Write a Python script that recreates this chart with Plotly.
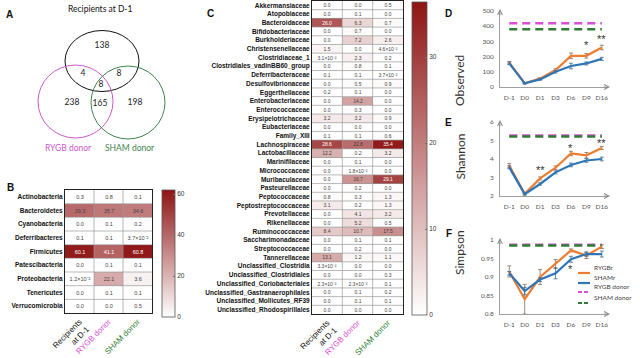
import math
import plotly.graph_objects as go

W, H = 640, 358


def fx(px):
    return px / W


def fy(py):
    return 1 - py / H


# ---------------- data ----------------
venn_set_names = ["Recipients at D-1", "RYGB donor", "SHAM donor"]
# regions: R only, R&G, R&S, R&G&S, G only, G&S, S only
venn_counts = [138, 4, 8, 8, 238, 165, 198]

group_cols = ["Recipients at D-1", "RYGB donor", "SHAM donor"]

phyla = ["Actinobacteria", "Bacteroidetes", "Cyanobacteria", "Deferribacteres",
         "Firmicutes", "Patescibacteria", "Proteobacteria", "Tenericutes",
         "Verrucomicrobia"]
phyla_recipients = [0.3, 39.3, 0.0, 0.1, 60.1, 0.0, 0.012, 0.0, 0.0]
phyla_rygb_donor = [0.8, 35.7, 0.1, 0.1, 41.1, 0.1, 22.1, 0.1, 0.0]
phyla_sham_donor = [0.1, 34.6, 0.2, 0.037, 60.8, 0.1, 3.6, 0.1, 0.5]

families = ["Akkermansiaceae", "Atopobiaceae", "Bacteroidaceae", "Bifidobacteriaceae",
            "Burkholderiaceae", "Christensenellaceae", "Clostridiaceae_1",
            "Clostridiales_vadinBB60_group", "Deferribacteraceae", "Desulfovibrionaceae",
            "Eggerthellaceae", "Enterobacteriaceae", "Enterococcaceae",
            "Erysipelotrichaceae", "Eubacteriaceae", "Family_XIII", "Lachnospiraceae",
            "Lactobacillaceae", "Marinifilaceae", "Micrococcaceae", "Muribaculaceae",
            "Pasteurellaceae", "Peptococcaceae", "Peptostreptococcaceae", "Prevotellaceae",
            "Rikenellaceae", "Ruminococcaceae", "Saccharimonadaceae", "Streptococcaceae",
            "Tannerellaceae", "Unclassified_Clostridia", "Unclassified_Clostridiales",
            "Unclassified_Coriobacteriales", "Unclassified_Gastranaerophilales",
            "Unclassified_Mollicutes_RF39", "Unclassified_Rhodospirillales"]
fam_recipients = [0.0, 0.0, 26.0, 0.0, 0.0, 1.5, 0.031, 0.0, 0.1, 0.0, 0.2, 0.0, 0.0,
                  3.2, 0.0, 0.1, 28.6, 12.2, 0.0, 0.0, 0.0, 0.0, 0.8, 3.1, 0.0, 0.0,
                  8.4, 0.0, 0.0, 13.1, 0.033, 0.0, 0.023, 0.0, 0.0, 0.0]
fam_rygb_donor = [0.0, 0.1, 6.3, 0.7, 7.2, 0.0, 2.3, 0.8, 0.1, 0.5, 0.1, 14.2, 0.3,
                  3.2, 0.0, 0.1, 22.8, 0.2, 0.1, 0.018, 16.7, 0.2, 0.3, 0.2, 4.1, 5.2,
                  10.7, 0.1, 0.2, 1.2, 0.0, 0.0, 0.023, 0.1, 0.1, 0.0]
fam_sham_donor = [0.5, 0.0, 0.7, 0.0, 2.6, 0.046, 0.2, 0.1, 0.037, 0.9, 0.0, 0.0, 0.0,
                  0.9, 0.0, 0.6, 35.4, 3.2, 0.0, 0.0, 29.1, 0.0, 1.3, 1.3, 3.2, 0.5,
                  17.5, 0.1, 0.0, 1.1, 0.0, 0.3, 0.1, 0.2, 0.1, 0.0]

days = ["D-1", "D0", "D1", "D3", "D6", "D9", "D16"]

observed_rygbr = [160, 25, 55, 112, 205, 205, 260]
observed_rygbr_err = [8, 4, 6, 8, 18, 15, 15]
observed_shamr = [155, 24, 50, 100, 138, 155, 185]
observed_shamr_err = [8, 4, 5, 8, 18, 10, 10]
observed_rygb_donor = 420
observed_sham_donor = 380

shannon_rygbr = [3.65, 2.12, 2.95, 3.53, 4.3, 4.2, 4.6]
shannon_rygbr_err = [0.1, 0.05, 0.08, 0.1, 0.12, 0.15, 0.08]
shannon_shamr = [3.55, 2.1, 2.65, 3.28, 3.68, 3.92, 4.0]
shannon_shamr_err = [0.08, 0.05, 0.06, 0.08, 0.1, 0.1, 0.1]
shannon_rygb_donor = 5.27
shannon_sham_donor = 5.22

simpson_rygbr = [0.915, 0.84, 0.9, 0.935, 0.972, 0.958, 0.982]
simpson_rygbr_err = [0.015, 0.04, 0.02, 0.012, 0.004, 0.008, 0.005]
simpson_shamr = [0.91, 0.862, 0.893, 0.91, 0.948, 0.962, 0.962]
simpson_shamr_err = [0.005, 0.01, 0.005, 0.015, 0.008, 0.006, 0.008]
simpson_rygb_donor = 0.987
simpson_sham_donor = 0.985

# ---------------- style ----------------
ORANGE = "#ED7D31"
BLUE = "#2E75B6"
MAGENTA = "#D84FD8"
GREEN = "#2E7D32"
VMAG = "#CC5ACC"
VGREEN = "#3D8550"
ARIAL = "Liberation Sans, Arial, sans-serif"
CAL = "Lato, Open Sans, sans-serif"
HEAT_SCALE = [[0, "#ffffff"], [1, "#8f1414"]]

SUP = {"-": "\u207b", "0": "\u2070", "1": "\u00b9", "2": "\u00b2", "3": "\u00b3",
       "4": "\u2074", "5": "\u2075", "6": "\u2076", "7": "\u2077", "8": "\u2078", "9": "\u2079"}


def fmt(v):
    if 0 < v < 0.05:
        e = math.floor(math.log10(v))
        m = v / 10 ** e
        return f"{m:.1f}\u00d710" + "".join(SUP[c] for c in str(e))
    return f"{v:.1f}"


def col_ticktext():
    return ["Recipients<br>at D-1",
            f"<span style='color:{MAGENTA}'>RYGB donor</span>",
            f"<span style='color:{GREEN}'>SHAM donor</span>"]


fig = go.Figure()
shapes = []
annotations = []

# ---------------- B heatmap ----------------
zB = [[a, b, c] for a, b, c in zip(phyla_recipients, phyla_rygb_donor, phyla_sham_donor)]
tB = [[fmt(v) for v in row] for row in zB]
fig.add_trace(go.Heatmap(
    z=zB, x=[0, 1, 2], y=list(range(len(phyla))), text=tB, texttemplate="%{text}",
    textfont=dict(size=5.5, family=ARIAL), colorscale=HEAT_SCALE, zmin=0, zmax=62,
    xaxis="x", yaxis="y", hoverinfo="skip",
    colorbar=dict(x=fx(162), xanchor="left", y=fy(190), yanchor="top",
                  lenmode="pixels", len=127, thicknessmode="pixels", thickness=13,
                  outlinecolor="#555", outlinewidth=0.8, xpad=0, ypad=0,
                  tickvals=[0, 20, 40, 60], ticks="inside", ticklen=2, tickcolor="#777",
                  tickfont=dict(size=6.5, family=ARIAL, color="#333"))))

# ---------------- C heatmap ----------------
zC = [[a, b, c] for a, b, c in zip(fam_recipients, fam_rygb_donor, fam_sham_donor)]
tC = [[fmt(v) for v in row] for row in zC]
fig.add_trace(go.Heatmap(
    z=zC, x=[0, 1, 2], y=list(range(len(families))), text=tC, texttemplate="%{text}",
    textfont=dict(size=5, family=ARIAL), colorscale=HEAT_SCALE, zmin=0, zmax=36.4,
    xaxis="x2", yaxis="y2", hoverinfo="skip",
    colorbar=dict(x=fx(412), xanchor="left", y=fy(2), yanchor="top",
                  lenmode="pixels", len=313, thicknessmode="pixels", thickness=15,
                  outlinecolor="#555", outlinewidth=0.8, xpad=0, ypad=0,
                  tickvals=[0, 10, 20, 30], ticks="inside", ticklen=2, tickcolor="#777",
                  tickfont=dict(size=6.5, family=ARIAL, color="#333"))))

# grid lines of heatmaps
for xr, yr, nrows in (("x", "y", len(phyla)), ("x2", "y2", len(families))):
    for xv in (0.5, 1.5):
        shapes.append(dict(type="line", xref=xr, yref=yr, x0=xv, x1=xv, y0=-0.5,
                           y1=nrows - 0.5, line=dict(color="#999", width=0.7), layer="above"))
    for i in range(nrows - 1):
        shapes.append(dict(type="line", xref=xr, yref=yr, x0=-0.5, x1=2.5, y0=i + 0.5,
                           y1=i + 0.5, line=dict(color="#999", width=0.7), layer="above"))

# ---------------- Venn ----------------
venn_xy = [(102, 46), (83, 74), (119, 74), (101, 85), (72, 103), (100, 104), (135, 103)]
fig.add_trace(go.Scatter(
    x=[p[0] for p in venn_xy], y=[p[1] for p in venn_xy], mode="text",
    text=[str(c) for c in venn_counts], textposition="middle center",
    textfont=dict(size=8.5, family=CAL, color="#222"), xaxis="x3", yaxis="y3",
    hoverinfo="skip", showlegend=False))
circles = [((102, 61, 37, 30.5), "#111"), ((75.5, 101.5, 37.5, 36.5), VMAG),
           ((128, 102.5, 37, 36.5), VGREEN)]
for (cx, cy, rx, ry), col in circles:
    shapes.append(dict(type="circle", xref="x3", yref="y3", x0=cx - rx, x1=cx + rx,
                       y0=cy - ry, y1=cy + ry, line=dict(color=col, width=1)))
annotations += [
    dict(text=venn_set_names[0], x=100, y=9, xref="x3", yref="y3", showarrow=False,
         font=dict(size=8.5, family=CAL, color="#111")),
    dict(text=venn_set_names[1], x=68, y=148, xref="x3", yref="y3", showarrow=False,
         font=dict(size=8.5, family=CAL, color=VMAG)),
    dict(text=venn_set_names[2], x=130, y=148, xref="x3", yref="y3", showarrow=False,
         font=dict(size=8.5, family=CAL, color=VGREEN)),
]

# ---------------- line charts ----------------
xi = list(range(len(days)))
panels = [
    ("x4", "y4", observed_rygbr, observed_rygbr_err, observed_shamr, observed_shamr_err,
     observed_rygb_donor, observed_sham_donor),
    ("x5", "y5", shannon_rygbr, shannon_rygbr_err, shannon_shamr, shannon_shamr_err,
     shannon_rygb_donor, shannon_sham_donor),
    ("x6", "y6", simpson_rygbr, simpson_rygbr_err, simpson_shamr, simpson_shamr_err,
     simpson_rygb_donor, simpson_sham_donor),
]
for xa, ya, r, re, s, se, rd, sd in panels:
    fig.add_trace(go.Scatter(x=xi, y=[rd] * len(xi), mode="lines", xaxis=xa, yaxis=ya,
                             line=dict(color=MAGENTA, width=2.5, dash="8px,5px"),
                             hoverinfo="skip", showlegend=False))
    fig.add_trace(go.Scatter(x=xi, y=[sd] * len(xi), mode="lines", xaxis=xa, yaxis=ya,
                             line=dict(color=GREEN, width=2.5, dash="8px,5px"),
                             hoverinfo="skip", showlegend=False))
    fig.add_trace(go.Scatter(x=xi, y=r, mode="lines", xaxis=xa, yaxis=ya,
                             line=dict(color=ORANGE, width=2.2),
                             error_y=dict(type="data", array=re, color="#8a6a55",
                                          thickness=0.8, width=2),
                             hoverinfo="skip", showlegend=False))
    fig.add_trace(go.Scatter(x=xi, y=s, mode="lines", xaxis=xa, yaxis=ya,
                             line=dict(color=BLUE, width=2.2),
                             error_y=dict(type="data", array=se, color="#3d6a8f",
                                          thickness=0.8, width=2),
                             hoverinfo="skip", showlegend=False))

# significance stars
stars = [("x4", "y4", 5, 275, "*"), ("x4", "y4", 6, 318, "**"),
         ("x5", "y5", 2, 3.43, "**"), ("x5", "y5", 4, 4.62, "*"), ("x5", "y5", 6, 4.86, "**"),
         ("x6", "y6", 4, 0.921, "*")]
for xa, ya, xv, yv, t in stars:
    annotations.append(dict(text=t, x=xv, y=yv, xref=xa, yref=ya, showarrow=False,
                            font=dict(size=11, family=ARIAL, color="#333")))

# axis titles
for txt, py in (("Observed", 53), ("Shannon", 157), ("Simpson", 277)):
    annotations.append(dict(text=txt, x=fx(469), y=fy(py), xref="paper", yref="paper",
                            textangle=-90, showarrow=False,
                            font=dict(size=12, family=CAL, color="#333")))

# axis arrows
for top, bot in ((11, 87), (122, 196), (240, 314)):
    annotations.append(dict(x=fx(500), y=fy(top - 2), xref="paper", yref="paper", text="",
                            showarrow=True, ax=0, ay=8, arrowhead=5, arrowsize=1.2,
                            arrowwidth=0.8, arrowcolor="#888"))
    annotations.append(dict(x=fx(610), y=fy(bot), xref="paper", yref="paper", text="",
                            showarrow=True, ax=-8, ay=0, arrowhead=5, arrowsize=1.2,
                            arrowwidth=0.8, arrowcolor="#888"))

# manual legend (panel F)
leg = [("RYGBr", ORANGE, None, 273), ("SHAMr", BLUE, None, 283),
       ("RYGB donor", MAGENTA, "4px,2px", 292), ("SHAM donor", GREEN, "4px,2px", 303)]
for name, col, dash, py in leg:
    ln = dict(color=col, width=2.2)
    if dash:
        ln["dash"] = dash
    shapes.append(dict(type="line", xref="paper", yref="paper", x0=fx(578), x1=fx(590),
                       y0=fy(py), y1=fy(py), line=ln))
    annotations.append(dict(text=name, x=fx(592), y=fy(py), xref="paper", yref="paper",
                            xanchor="left", showarrow=False,
                            font=dict(size=6.5, family=CAL, color="#444")))

# panel letters
for t, px, py in (("A", 4, 7), ("B", 5, 187), ("C", 205, 6), ("D", 454, 6),
                  ("E", 454, 123), ("F", 454, 241)):
    annotations.append(dict(text=f"<b>{t}</b>", x=fx(px), y=fy(py), xref="paper",
                            yref="paper", showarrow=False,
                            font=dict(size=10, family=ARIAL, color="#111")))

# ---------------- layout ----------------
heat_x = dict(range=[-0.5, 2.5], tickvals=[0, 1, 2], ticktext=col_ticktext(),
              tickangle=-45, showline=True, mirror=True, linecolor="#222", linewidth=1,
              ticks="", showgrid=False, zeroline=False, automargin=False,
              tickfont=dict(size=8, family=ARIAL, color="#111"))
heat_y = dict(showline=True, mirror=True, linecolor="#222", linewidth=1, ticks="",
              showgrid=False, zeroline=False, automargin=False,
              tickfont=dict(size=6.5, family=ARIAL, color="#111", weight="bold"))

line_x = dict(range=[-0.6, 6.4], tickvals=xi, ticktext=days, showline=True,
              linecolor="#888", linewidth=0.8, showgrid=False, zeroline=False,
              ticks="outside", ticklen=4, tickcolor="rgba(0,0,0,0)", automargin=False,
              tickfont=dict(size=6.5, family=CAL, color="#555"))
line_y = dict(showline=True, linecolor="#888", linewidth=0.8, showgrid=False,
              zeroline=False, ticks="outside", ticklen=4, tickcolor="rgba(0,0,0,0)",
              automargin=False, tickfont=dict(size=6.5, family=CAL, color="#555"))

fig.update_layout(
    width=W, height=H, margin=dict(l=0, r=0, t=0, b=0, autoexpand=False),
    paper_bgcolor="white", plot_bgcolor="rgba(0,0,0,0)", showlegend=False,
    xaxis=dict(heat_x, domain=[fx(65), fx(152)], anchor="y"),
    yaxis=dict(heat_y, domain=[fy(313), fy(190)], anchor="x", range=[len(phyla) - 0.5, -0.5],
               tickvals=list(range(len(phyla))), ticktext=phyla),
    xaxis2=dict(heat_x, domain=[fx(312), fx(403)], anchor="y2"),
    yaxis2=dict(heat_y, domain=[fy(314), fy(1)], anchor="x2",
                range=[len(families) - 0.5, -0.5],
                tickvals=list(range(len(families))), ticktext=families),
    xaxis3=dict(domain=[0, fx(200)], range=[0, 200], visible=False, anchor="y3",
                automargin=False),
    yaxis3=dict(domain=[fy(170), 1], range=[170, 0], visible=False, anchor="x3",
                automargin=False),
    xaxis4=dict(line_x, domain=[fx(500), fx(608)], anchor="y4"),
    yaxis4=dict(line_y, domain=[fy(87), fy(11)], anchor="x4", range=[0, 500],
                tickvals=[0, 100, 200, 300, 400, 500]),
    xaxis5=dict(line_x, domain=[fx(500), fx(608)], anchor="y5"),
    yaxis5=dict(line_y, domain=[fy(196), fy(122)], anchor="x5", range=[2, 6],
                tickvals=[2, 3, 4, 5, 6]),
    xaxis6=dict(line_x, domain=[fx(500), fx(608)], anchor="y6"),
    yaxis6=dict(line_y, domain=[fy(314), fy(240)], anchor="x6", range=[0.8, 1.0],
                tickvals=[0.8, 0.85, 0.9, 0.95, 1.0],
                ticktext=["0.8", "0.85", "0.9", "0.95", "1"]),
    shapes=shapes, annotations=annotations,
)

fig.write_html(
    "out.html",
    config={"displayModeBar": False, "staticPlot": True},
    post_script="document.body.style.margin='0';document.body.style.padding='0';"
                "document.body.style.overflow='hidden';",
)
